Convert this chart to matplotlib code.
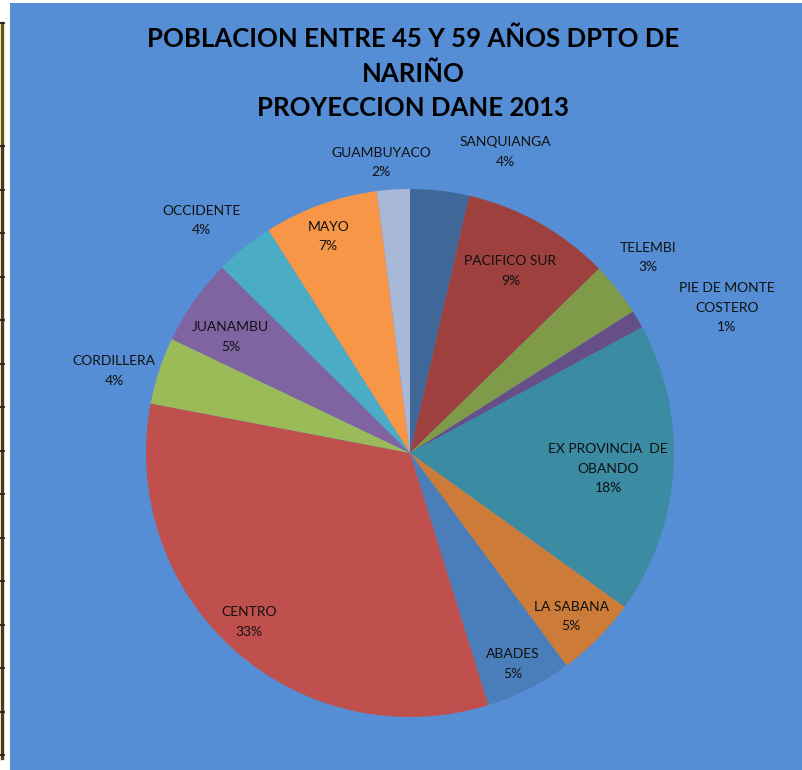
import matplotlib
matplotlib.use("Agg")
import matplotlib.pyplot as plt
from matplotlib.patches import Rectangle
from matplotlib.lines import Line2D

# Data (clockwise from 12 o'clock)
subregions = ["SANQUIANGA", "PACIFICO SUR", "TELEMBI", "PIE DE MONTE\nCOSTERO",
              "EX PROVINCIA  DE\nOBANDO", "LA SABANA", "ABADES", "CENTRO",
              "CORDILLERA", "JUANAMBU", "OCCIDENTE", "MAYO", "GUAMBUYACO"]
shares = [3.6, 9.1, 3.3, 1.1, 17.8, 5.0, 5.3, 32.8, 4.1, 5.3, 3.6, 7.0, 2.0]
colors = ["#3F6899", "#9E413E", "#7F9A48", "#664E86", "#3B8BA3", "#CC7B38",
          "#4A7EBB", "#C0504D", "#9BBB59", "#8064A2", "#4BACC6", "#F79646",
          "#A9B8D6"]

# label centres in pie-radius units (Excel moved some of them by hand)
label_pos = [(0.36, 1.14), (0.38, 0.69), (0.90, 0.74), (1.20, 0.55),
             (0.75, -0.06), (0.61, -0.62), (0.39, -0.80), (-0.61, -0.64),
             (-1.12, 0.31), (-0.68, 0.44), (-0.79, 0.88), (-0.31, 0.82),
             (-0.11, 1.10)]

title = "POBLACION ENTRE 45 Y 59 AÑOS DPTO DE\nNARIÑO\nPROYECCION DANE 2013"

W, H = 802, 770
fig = plt.figure(figsize=(W / 100, H / 100), dpi=100)
fig.patch.set_facecolor("white")

# blue chart area
fig.patches.append(Rectangle((10 / W, 0), (W - 10) / W, (H - 3) / H,
                             transform=fig.transFigure, facecolor="#558ED5",
                             edgecolor="none", zorder=-5))

# bit of the neighbouring sheet axis on the far left
fig.lines.append(Line2D([1.5 / W, 1.5 / W], [1 - 23 / H, 1 - 146 / H],
                        transform=fig.transFigure, color="#5C5C08", lw=2.4))
fig.lines.append(Line2D([1.5 / W, 1.5 / W], [1 - 146 / H, 1 - 758 / H],
                        transform=fig.transFigure, color="#4A3C14", lw=2.4))
for k in range(16):
    ty = 23 if k == 0 else 146 + 43.5 * (k - 1)
    fig.lines.append(Line2D([0, 4 / W], [1 - ty / H, 1 - ty / H],
                            transform=fig.transFigure, color="#222222", lw=1.3))

# pie axes: centre (410, 453) px, radius 264 px
cx, cy, r = 410, 453, 264
ax = fig.add_axes([(cx - r) / W, (H - cy - r) / H, 2 * r / W, 2 * r / H])
ax.set_zorder(2)
ax.pie(shares, colors=colors, startangle=90, counterclock=False,
       wedgeprops=dict(linewidth=0))
ax.set_xlim(-1, 1)
ax.set_ylim(-1, 1)
ax.axis("off")

total = sum(shares)
for name, v, (lx, ly) in zip(subregions, shares, label_pos):
    ax.text(lx, ly, f"{name}\n{round(v / total * 100):.0f}%", ha="center",
            va="center", fontsize=10, family="Lato", color="#111111",
            linespacing=1.75, clip_on=False)

fig.text(413 / W, 1 - 73 / H, title, ha="center", va="center",
         fontsize=18.5, fontweight="bold", family="Lato", color="black",
         linespacing=1.5, zorder=3)

fig.savefig("out.png", dpi=100, facecolor=fig.get_facecolor())
